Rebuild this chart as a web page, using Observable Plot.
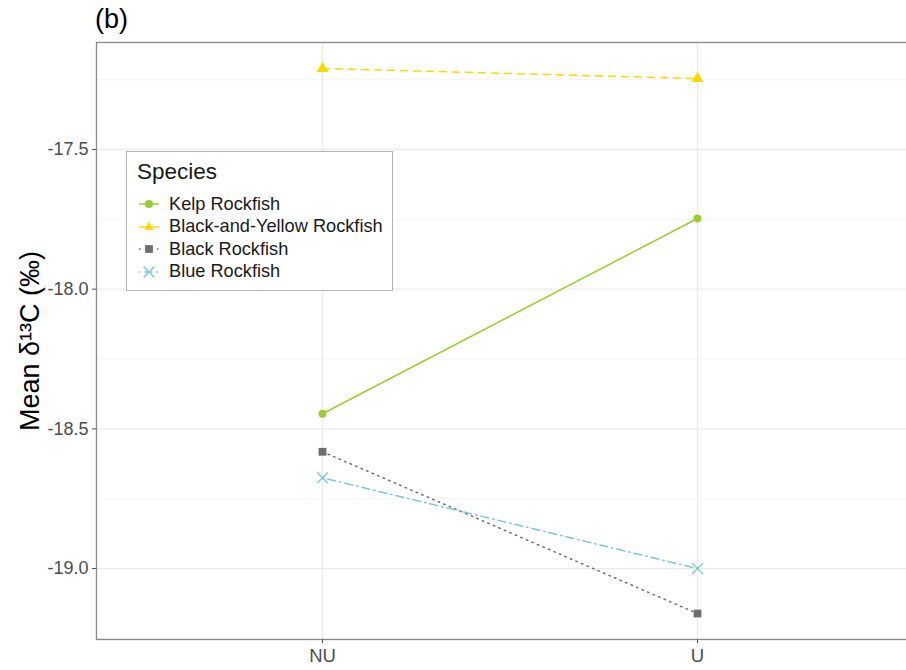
<!DOCTYPE html>
<html><head><meta charset="utf-8">
<script src="https://cdn.jsdelivr.net/npm/d3@7"></script>
<script src="https://cdn.jsdelivr.net/npm/@observablehq/plot@0.6"></script>
<style>
html,body{margin:0;background:#fff;overflow:hidden}
body{font-family:"Liberation Sans",Arial,Helvetica,sans-serif;width:906px;height:670px;position:relative}
#title{position:absolute;left:95px;top:4px;font-size:27px;color:#000;line-height:30px}
#chart{position:absolute;left:0;top:40px;width:906px;height:630px;overflow:hidden}
#chart svg{max-width:none}
#legend{position:absolute;left:126px;top:151px;width:265px;height:138px;border:1px solid #b3b3b3;background:#fff;box-sizing:content-box}
#legend .lt{position:absolute;left:10px;top:7px;font-size:22.5px;color:#1a1a1a}
#legend .it{position:absolute;left:12px;height:22px;display:flex;align-items:center;font-size:18.2px;color:#1a1a1a;white-space:nowrap}
#legend .it svg{margin-right:10px}
</style></head>
<body>
<div id="title">(b)</div>
<div id="chart"></div>
<div id="legend"></div>
<script>
const sites = ["NU", "U"];
const speciesNames = ["Kelp Rockfish", "Black-and-Yellow Rockfish", "Black Rockfish", "Blue Rockfish"];
const kelpMeans = [-18.446, -17.747];
const blackYellowMeans = [-17.21, -17.246];
const blackMeans = [-18.582, -19.161];
const blueMeans = [-18.675, -19.0];
const yTicks = [-19.0, -18.5, -18.0, -17.5];
const yMinorTicks = [-19.25, -18.75, -18.25, -17.75, -17.25];
const yDomain = [-19.254, -17.117];
const legendTitle = "Species";
const yLabel = "Mean δ¹³C (‰)";

const seriesValues = [kelpMeans, blackYellowMeans, blackMeans, blueMeans];
const styles = [
  {color: "#9ACD32", dash: null, symbol: "circle", r: 4, filled: true},
  {color: "#FFD700", dash: "7,6", symbol: "triangle", r: 4.4, filled: true},
  {color: "#6E6E6E", dash: "1.5,4.5", symbol: "square", r: 4.4, filled: true},
  {color: "#7EC8D1", dash: "1.5,4,8,4", symbol: "times", r: 5, filled: false}
];

const rows = speciesNames.flatMap((s, i) => sites.map((site, j) => ({species: s, site, value: seriesValues[i][j]})));

const marks = [
  Plot.gridY(yMinorTicks, {stroke: "#f2f2f2", strokeOpacity: 1, strokeWidth: 0.8}),
  Plot.gridY(yTicks, {stroke: "#ebebeb", strokeOpacity: 1, strokeWidth: 1.3}),
  Plot.gridX(sites, {stroke: "#ebebeb", strokeOpacity: 1, strokeWidth: 1.3})
];
speciesNames.forEach((s, i) => {
  const st = styles[i];
  const d = rows.filter(r => r.species === s);
  marks.push(Plot.line(d, {x: "site", y: "value", stroke: st.color, strokeWidth: 1.5, strokeDasharray: st.dash}));
});
speciesNames.forEach((s, i) => {
  const st = styles[i];
  const d = rows.filter(r => r.species === s);
  marks.push(Plot.dot(d, st.filled
    ? {x: "site", y: "value", symbol: st.symbol, r: st.r, fill: st.color, stroke: "none"}
    : {x: "site", y: "value", symbol: st.symbol, r: st.r, fill: "none", stroke: st.color, strokeWidth: 1.3}));
});
marks.push(
  Plot.frame({stroke: "#8a8a8a", strokeWidth: 1.3}),
  Plot.axisY({ticks: yTicks, tickFormat: d => d.toFixed(1), tickSize: 4, tickPadding: 4, label: null, color: "#4d4d4d", fontSize: 18}),
  Plot.axisX({tickSize: 4, tickPadding: 5, label: null, color: "#4d4d4d", fontSize: 18.5}),
  Plot.text([yLabel], {frameAnchor: "left", rotate: -90, dx: -66, fontSize: 27, fill: "#000", textAnchor: "middle"})
);

const chart = Plot.plot({
  width: 923,
  height: 630,
  marginLeft: 96,
  marginRight: 0,
  marginTop: 2,
  marginBottom: 31,
  style: {fontFamily: "'Liberation Sans', Arial, Helvetica, sans-serif", fontSize: "18px", background: "#fff", maxWidth: "none"},
  x: {type: "point", domain: sites, padding: 0.6},
  y: {domain: yDomain},
  marks
});
document.getElementById("chart").appendChild(chart);

// Legend
const legend = document.getElementById("legend");
legend.innerHTML = `<div class="lt">${legendTitle}</div>`;
const symMap = {circle: d3.symbolCircle, triangle: d3.symbolTriangle2 || d3.symbolTriangle, square: d3.symbolSquare, times: d3.symbolTimes || d3.symbolCross};
speciesNames.forEach((s, i) => {
  const st = styles[i];
  const path = d3.symbol(symMap[st.symbol], Math.PI * st.r * st.r)();
  const mk = st.filled
    ? `<path d="${path}" transform="translate(10,11)" fill="${st.color}"/>`
    : `<path d="${path}" transform="translate(10,11)" fill="none" stroke="${st.color}" stroke-width="1.3"/>`;
  const svg = `<svg width="20" height="22"><line x1="0" x2="20" y1="11" y2="11" stroke="${st.color}" stroke-width="1.5" ${st.dash ? `stroke-dasharray="${st.dash}"` : ""}/>${mk}</svg>`;
  const div = document.createElement("div");
  div.className = "it";
  div.style.top = (41 + i * 22.5) + "px";
  div.innerHTML = svg + `<span>${s}</span>`;
  legend.appendChild(div);
});
</script>
</body></html>
